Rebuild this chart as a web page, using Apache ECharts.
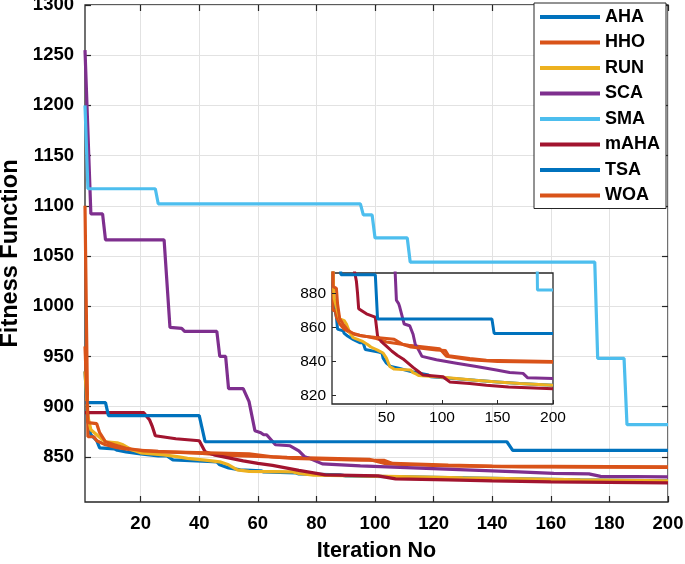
<!DOCTYPE html>
<html><head><meta charset="utf-8">
<script src="https://cdn.jsdelivr.net/npm/echarts@6/dist/echarts.min.js"></script>
<style>html,body{margin:0;padding:0;background:#fff}#c{width:685px;height:564px}</style>
</head><body><div id="c"></div>
<script>
// ---- data ----
const seriesNames = ['AHA','HHO','RUN','SCA','SMA','mAHA','TSA','WOA'];

const xTicksMain  = [20,40,60,80,100,120,140,160,180,200];
const yTicksMain  = [850,900,950,1000,1050,1100,1150,1200,1250,1300];
const xTicksInset = [50,100,150,200];
const yTicksInset = [820,840,860,880];

const AHA_iter = [1,2,3,5,6,11,12,15,20,26,29,31,43,46,47,50,54,61,62,73,74,88,90,110,130,150,170,200];
const AHA_fit  = [935,885,872,866,859,858,856.5,855,853,851,851,847,845.5,845,842,839,837,836,835,834,833,832,831,830,829,828,827,826];

const HHO_iter = [1,2,4,5,8,12,17,26,41,50,70,98,104,125,150,200];
const HHO_fit  = [1100,870,870,866,862,859,857,855.5,853.5,851.5,849.5,847.5,843,841,840,839.5];

const RUN_iter = [1,2,3,5,7,8,12,14,17,20,28,33,36,42,47,50,53,57,72,74,77,79,95,113,130,150,170,200];
const RUN_fit  = [935,890,877,872,867,865,864,862,857,854,852,850,848.5,846.7,845,842,837,835.5,835,833.4,832.5,831.7,831,830,829,828,827,826];

const SCA_iter = [1,3,7,8,28,30,34,35,46,47,49,50,55,57,59,61,62,63,66,71,74,76,78,82,95,113,131,149,161,173,177,200];
const SCA_fit  = [1255,1092,1092,1066,1066,979,978,975,975,950,950,918,918,905,876,874,872,872,862,861,856,850,848,843,841,839,837,835,833.5,833,830.5,830];

const SMA_iter = [1,2,25,26,95,96,99,100,111,112,175,176,185,186,200];
const SMA_fit  = [1200,1117,1117,1102,1102,1091,1091,1068,1068,1044,1044,948,948,882,882];

const mAHA_iter = [1,21,23,24,25,32,38,40,42,45,50,55,60,65,74,80,83,101,103,107,125,140,160,200];
const mAHA_fit  = [894,894,887,880,871,868,866.5,866,855,852,849,846,843.5,841.5,836.5,833.5,832,831,830,828,827,826,825,824];

const TSA_iter = [1,8,9,40,42,145,147,200];
const TSA_fit  = [904,904,891,891,865,865,856.5,856.5];

const WOA_iter = [1,2,5,6,8,11,15,21,28,43,57,65,72,95,103,106,125,140,200];
const WOA_fit  = [960,884,883,874,865,862,858.5,856,855,854,853,850,848.5,846.7,846.5,843.4,841.7,840.7,840];

// ---- styles ----
const seriesColors = ['#0072BD','#D95319','#EDB120','#7E2F8E','#4DBEEE','#A2142F','#0072BD','#D95319'];
const FONT = '"Liberation Sans", Arial, Helvetica, sans-serif';
const AX = '#262626';
const GRIDC = '#e2e2e2';

const dataSets = [
  [AHA_iter, AHA_fit],[HHO_iter, HHO_fit],[RUN_iter, RUN_fit],[SCA_iter, SCA_fit],
  [SMA_iter, SMA_fit],[mAHA_iter, mAHA_fit],[TSA_iter, TSA_fit],[WOA_iter, WOA_fit]
];
function pairs(xs, ys){ return xs.map((x,i)=>[x, ys[i]]); }
const plain = v => String(v);

const series = [];
dataSets.forEach((d, i) => {
  series.push({type:'line', name:seriesNames[i], xAxisIndex:0, yAxisIndex:0, data:pairs(d[0], d[1]),
    showSymbol:false, symbol:'none', clip:true, z:2,
    lineStyle:{color:seriesColors[i], width:3.2}, itemStyle:{color:seriesColors[i]}});
});
dataSets.forEach((d, i) => {
  series.push({type:'line', name:seriesNames[i], xAxisIndex:1, yAxisIndex:1, data:pairs(d[0], d[1]),
    showSymbol:false, symbol:'none', clip:true, z:4,
    lineStyle:{color:seriesColors[i], width:3}, itemStyle:{color:seriesColors[i]}});
});

const boldLbl = {fontFamily:FONT, fontWeight:'bold', fontSize:18.5, color:'#000', formatter:plain};
const normLbl = {fontFamily:FONT, fontWeight:'normal', fontSize:15.5, color:'#000', formatter:plain};

const option = {
  animation:false,
  backgroundColor:'#fff',
  grid:[
    {left:85, top:5, width:583, height:497, show:true, borderColor:AX, borderWidth:1.3, backgroundColor:'transparent',
      containLabel:false, outerBoundsMode:'none'},
    {left:332, top:273, width:221, height:131, show:true, borderColor:AX, borderWidth:1.3, backgroundColor:'#fff', z:3,
      containLabel:false, outerBoundsMode:'none'}
  ],
  xAxis:[
    {type:'value', gridIndex:0, min:1, max:200, position:'bottom',
      axisLine:{show:false}, 
      axisTick:{show:true, inside:true, length:6, customValues:xTicksMain, lineStyle:{color:AX, width:1.2}},
      axisLabel:Object.assign({customValues:xTicksMain, margin:12}, boldLbl),
      splitLine:{show:true, lineStyle:{color:GRIDC, width:1}},
      name:'Iteration No', nameLocation:'middle', nameGap:38, nameMoveOverlap:false,
      nameTextStyle:{fontFamily:FONT, fontWeight:'bold', fontSize:21.5, color:'#000'}},
    {type:'value', gridIndex:1, min:1, max:200, position:'bottom', z:5,
      axisLine:{show:false},
      axisTick:{show:true, inside:true, length:4, customValues:xTicksInset, lineStyle:{color:AX}},
      axisLabel:Object.assign({customValues:xTicksInset, margin:6}, normLbl),
      splitLine:{show:false}},
    {type:'value', gridIndex:0, min:1, max:200, position:'top',
      axisLine:{show:false},
      axisTick:{show:true, inside:true, length:6, customValues:xTicksMain, lineStyle:{color:AX, width:1.2}},
      axisLabel:{show:false}, splitLine:{show:false}}
  ],
  yAxis:[
    {type:'value', gridIndex:0, min:805, max:1300, position:'left',
      axisLine:{show:false},
      axisTick:{show:true, inside:true, length:6, customValues:yTicksMain, lineStyle:{color:AX, width:1.2}},
      axisLabel:Object.assign({customValues:yTicksMain, margin:11}, boldLbl),
      splitLine:{show:true, lineStyle:{color:GRIDC, width:1}},
      name:'Fitness Function', nameLocation:'middle', nameGap:62, nameMoveOverlap:false,
      nameTextStyle:{fontFamily:FONT, fontWeight:'bold', fontSize:23.5, color:'#000'}},
    {type:'value', gridIndex:1, min:815, max:892, position:'left', z:5,
      axisLine:{show:false},
      axisTick:{show:true, inside:true, length:4, customValues:yTicksInset, lineStyle:{color:AX}},
      axisLabel:Object.assign({customValues:yTicksInset, margin:6}, normLbl),
      splitLine:{show:false}},
    {type:'value', gridIndex:0, min:805, max:1300, position:'right',
      axisLine:{show:false},
      axisTick:{show:true, inside:true, length:6, customValues:yTicksMain, lineStyle:{color:AX, width:1.2}},
      axisLabel:{show:false}, splitLine:{show:false}}
  ],
  legend:{
    data:seriesNames, orient:'vertical', left:534, top:3, padding:[4,6,3,6],
    itemGap:5.5, itemWidth:60, itemHeight:4, icon:'rect',
    textStyle:{fontFamily:FONT, fontWeight:'bold', fontSize:18, color:'#000', lineHeight:20},
    borderColor:AX, borderWidth:1, backgroundColor:'#fff', z:10
  },
  series:series
};

const chart = echarts.init(document.getElementById('c'));
chart.setOption(option);
</script>
</body></html>
